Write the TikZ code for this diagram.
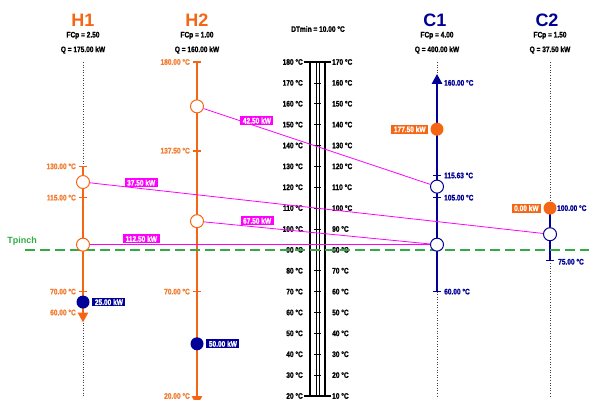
\documentclass[tikz,border=0pt]{standalone}
\usepackage{fontspec}
\setmainfont{Liberation Sans}[FakeStretch=0.82, BoldFeatures={FakeBold=1.2}]
\newfontfamily\titlefont{Liberation Sans}
\usetikzlibrary{positioning,arrows.meta}
\definecolor{hotorange}{RGB}{245,102,20}
\definecolor{hotlabel}{RGB}{242,125,50}
\definecolor{coldblue}{RGB}{0,0,150}
\definecolor{xchmagenta}{RGB}{255,0,255}
\definecolor{pinchgreen}{RGB}{51,170,68}

\begin{document}
\begin{tikzpicture}[x=1pt, y=-1pt,
    declare function={ty(\t)=62+(180-\t)*2.0875;},
    title/.style={font=\titlefont\bfseries\fontsize{18}{18}\selectfont, inner sep=0pt},
    info/.style={font=\bfseries\fontsize{8}{9}\selectfont, inner sep=0pt, text=black},
    hotline/.style={hotorange, line width=2.5pt},
    coldline/.style={coldblue, line width=2.5pt},
    tempbar/.style={line width=1.6pt},
    hotlbl/.style={info, text=hotlabel, anchor=east},
    coldlbl/.style={info, text=coldblue, anchor=west},
    guide/.style={black!75, line width=0.8pt, dash pattern=on 1pt off 1.6pt},
    xch/.style={circle, fill=white, minimum size=13pt, inner sep=0pt, line width=1pt},
    heater/.style={circle, fill=hotorange, minimum size=13pt, inner sep=0pt},
    cooler/.style={circle, fill=coldblue, minimum size=13pt, inner sep=0pt},
    duty/.style={font=\bfseries\fontsize{8}{9}\selectfont, text=white, fill=xchmagenta,
      inner xsep=2.5pt, inner ysep=1.5pt, text height=5.8pt, text depth=0pt},
    link/.style={xchmagenta, line width=0.8pt},
    arrowhead/.style={-{Triangle[length=10pt, width=10pt]}}
  ]
    \fill[white] (0,0) rectangle (589,399);
    \useasboundingbox (0,0) rectangle (589,399);
    \clip (0,0) rectangle (589,399);

    % headers
    \node[title, text=hotorange] (h1name) at (83,20) {H1};
    \node[info] (h1fcp) at (83,35.5) {FCp = 2.50};
    \node[info] (h1q) at (83,50) {Q = 175.00 kW};
    \node[title, text=hotorange] (h2name) at (197,20) {H2};
    \node[info] (h2fcp) at (197,35.5) {FCp = 1.00};
    \node[info] (h2q) at (197,50) {Q = 160.00 kW};
    \node[title, text=coldblue] (c1name) at (435,20) {C1};
    \node[info] (c1fcp) at (437,35.5) {FCp = 4.00};
    \node[info] (c1q) at (437,50) {Q = 400.00 kW};
    \node[title, text=coldblue] (c2name) at (547,20) {C2};
    \node[info] (c2fcp) at (550,35.5) {FCp = 1.50};
    \node[info] (c2q) at (550,50) {Q = 37.50 kW};
    \node[info] (dtmin) at (318,29) {DTmin = 10.00 °C};

    % temperature scale
    \draw[line width=2pt] (310,62) -- (310,396);
    \draw[line width=2pt] (325,62) -- (325,396);
    \draw[line width=0.6pt] (316.3,62) -- (316.3,396);
    \draw[line width=0.6pt] (318.8,62) -- (318.8,396);
    \draw[tempbar] (304,62) -- (331,62);
    \draw[tempbar] (304,396) -- (331,396);
    \foreach \t in {170,160,...,30}
      \draw[line width=0.7pt] (314,{ty(\t)}) -- (321,{ty(\t)});
    \foreach \t [evaluate=\t as \tc using int(\t-10)] in {180,170,...,20} {
      \node[info, anchor=east] at (303,{ty(\t)}) {\t~°C};
      \node[info, anchor=west] at (332,{ty(\t)}) {\tc~°C};
    }

    % H1
    \coordinate (h1in) at (83,{ty(130)});
    \coordinate (h1out) at (83,{ty(60)+10});
    \draw[guide] (83,62) -- (h1in);
    \draw[guide] (h1out) -- (83,396);
    \draw[hotline, arrowhead] (h1in) -- (h1out);
    \foreach \t/\s in {130/130.00,115/115.00,70/70.00} {
      \draw[hotorange, tempbar] (79,{ty(\t)}) -- (87,{ty(\t)});
      \node[hotlbl] at (76,{ty(\t)}) {\s~°C};
    }
    \node[hotlbl] at (76,{ty(60)}) {60.00~°C};

    % H2
    \coordinate (h2in) at (197,{ty(180)});
    \coordinate (h2out) at (197,{ty(20)+10});
    \draw[hotline, arrowhead] (h2in) -- (h2out);
    \foreach \t/\s in {180/180.00,137.5/137.50,70/70.00} {
      \draw[hotorange, tempbar] (193,{ty(\t)}) -- (201,{ty(\t)});
      \node[hotlbl] at (190,{ty(\t)}) {\s~°C};
    }
    \node[hotlbl] at (190,{ty(20)}) {20.00~°C};

    % C1
    \coordinate (c1in) at (437,{ty(70)});
    \coordinate (c1out) at (437,{ty(170)-9});
    \draw[guide] (437,62) -- (c1out);
    \draw[guide] (c1in) -- (437,396);
    \draw[coldline, arrowhead] (c1in) -- (c1out);
    \foreach \t/\s in {70/60.00,115/105.00,125.63/115.63} {
      \draw[coldblue, tempbar] (433,{ty(\t)}) -- (441,{ty(\t)});
      \node[coldlbl] at (444,{ty(\t)}) {\s~°C};
    }
    \node[coldlbl] at (444,{ty(170)}) {160.00~°C};

    % C2
    \coordinate (c2in) at (550,{ty(85)});
    \coordinate (c2out) at (550,{ty(110)});
    \draw[guide] (550,62) -- (c2out);
    \draw[guide] (c2in) -- (550,396);
    \draw[coldline] (c2in) -- (c2out);
    \draw[coldblue, tempbar] (546,{ty(85)}) -- (554,{ty(85)});
    \node[coldlbl] at (558,{ty(84.3)}) {75.00~°C};
    \node[coldlbl] at (557,{ty(110)}) {100.00~°C};

    % pinch
    \draw[pinchgreen, line width=1.8pt, dash pattern=on 10pt off 5pt] (25,250) -- (589,250);
    \node[font=\titlefont\bfseries\fontsize{9}{9}\selectfont, text=pinchgreen, inner sep=0pt] (tpinch) at (22,241) {Tpinch};

    % exchangers, heaters and coolers
    \node[xch, draw=hotorange] (h1a) at (83,{ty(122.5)}) {};
    \node[xch, draw=hotorange] (h1b) at (83,{ty(92.5)}) {};
    \node[cooler] (h1cu) at (83,{ty(65)}) {};
    \node[xch, draw=hotorange] (h2a) at (197,{ty(158.75)}) {};
    \node[xch, draw=hotorange] (h2b) at (197,{ty(103.75)}) {};
    \node[cooler] (h2cu) at (197,{ty(45)}) {};
    \node[heater] (c1hu) at (437,{ty(147.8)}) {};
    \node[xch, draw=coldblue] (c1a) at (437,{ty(120.3)}) {};
    \node[xch, draw=coldblue] (c1b) at (437,{ty(92.5)}) {};
    \node[heater] (c2hu) at (550,{ty(110)}) {};
    \node[xch, draw=coldblue] (c2a) at (550,{ty(97.5)}) {};

    \draw[link] (h2a) -- node[duty, pos=.235, above=1pt] (x1) {42.50 kW} (c1a);
    \draw[link] (h1a) -- node[duty, pos=.113, above=1pt] (x2) {37.50 kW} (c2a);
    \draw[link] (h2b) -- node[duty, pos=.235, above=1.5pt] (x3) {67.50 kW} (c1b);
    \draw[link] (h1b) -- node[duty, pos=.151, above=1pt] (x4) {112.50 kW} (c1b);

    \node[duty, fill=coldblue, right=2.5pt of h1cu] (h1cul) {25.00 kW};
    \node[duty, fill=coldblue, right=2.5pt of h2cu] (h2cul) {50.00 kW};
    \node[duty, fill=hotorange, left=2pt of c1hu] (c1hul) {177.50 kW};
    \node[duty, fill=hotorange, left=2pt of c2hu] (c2hul) {0.00 kW};
  \end{tikzpicture}
\end{document}
